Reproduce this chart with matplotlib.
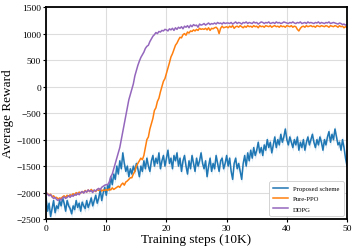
import numpy as np
import matplotlib
matplotlib.use("Agg")
import matplotlib.pyplot as plt

steps = np.arange(201) * 0.25  # training steps (10K)

proposed = [
    -2100,-2350,-2200,-2450,-2300,-2150,-2380,-2250,-2300,
    -2150,-2250,-2100,-2200,-2350,-2150,-2250,-2300,
    -2400,-2250,-2320,-2150,-2280,-2200,-2350,-2180,
    -2250,-2300,-2150,-2280,-2200,-2100,-2250,-2150,
    -2050,-2200,-2100,-1950,-2150,-2000,-1900,-2050,
    -1850,-1950,-1700,-1850,-1650,-1750,-1500,-1650,
    -1400,-1550,-1250,-1450,-1600,-1500,-1700,-1550,
    -1650,-1500,-1600,-1450,-1550,-1700,-1500,-1600,
    -1400,-1550,-1350,-1500,-1600,-1400,-1300,-1500,
    -1350,-1450,-1250,-1550,-1400,-1300,-1500,-1350,
    -1200,-1450,-1350,-1550,-1300,-1400,-1250,-1500,
    -1350,-1600,-1400,-1300,-1500,-1650,-1400,-1550,
    -1300,-1450,-1600,-1350,-1500,-1400,-1250,-1450,
    -1550,-1400,-1700,-1500,-1350,-1600,-1450,-1550,
    -1300,-1450,-1600,-1400,-1350,-1550,-1450,-1300,
    -1500,-1350,-1600,-1750,-1450,-1350,-1550,-1450,
    -1600,-1750,-1450,-1300,-1500,-1250,-1400,-1200,
    -1350,-1150,-1300,-1200,-1050,-1250,-1150,-1300,
    -1100,-1200,-1000,-1150,-1050,-1250,-1100,-950,
    -1150,-1000,-1100,-900,-1050,-950,-800,-1000,
    -1100,-950,-1050,-1150,-1000,-1100,-950,-1200,
    -1050,-1150,-1000,-1200,-1050,-950,-1100,-1000,
    -900,-1050,-1150,-1000,-1100,-950,-1050,-1200,
    -1000,-1100,-950,-850,-1050,-900,-1000,-800,
    -950,-1100,-1050,-1200,-1000,-1150,-1350,-1500,
]

pure_ppo = [
    -2000,-2020,-2050,-2030,-2080,-2060,-2100,-2090,-2120,
    -2100,-2110,-2080,-2060,-2090,-2050,-2070,-2040,
    -2060,-2020,-2050,-2000,-2030,-1990,-2010,-1980,
    -2000,-1960,-1990,-1950,-1980,-1940,-1970,-1960,
    -1980,-1940,-1960,-1930,-1970,-1950,-1960,-1940,
    -1960,-1930,-1950,-1910,-1940,-1920,-1900,-1880,
    -1900,-1850,-1820,-1860,-1800,-1780,-1750,-1720,
    -1720,-1650,-1600,-1500,-1450,-1400,-1350,-1380,
    -1300,-1150,-1000,-950,-800,-700,-600,-450,
    -400,-280,-220,-100,0,100,150,250,
    350,450,560,620,700,780,820,880,
    930,920,980,1000,970,1030,1010,1050,
    1040,1070,1050,1080,1060,1100,1080,1090,
    1080,1100,1070,1110,1060,1100,1090,1110,
    1120,1090,1000,1100,1140,1110,1120,1130,
    1110,1140,1120,1150,1100,1130,1140,1120,
    1150,1130,1110,1140,1120,1150,1130,1140,
    1120,1150,1130,1140,1110,1150,1130,1140,
    1120,1150,1140,1130,1150,1120,1140,1150,
    1130,1140,1120,1150,1130,1140,1120,1150,
    1140,1130,1150,1120,1140,1130,1080,1050,
    1100,1130,1140,1120,1150,1130,1140,1150,
    1130,1140,1120,1150,1140,1130,1150,1140,
    1130,1150,1140,1120,1150,1140,1130,1150,
    1140,1120,1150,1130,1140,1110,1130,1120,
]

ddpg = [
    -2000,-2030,-2060,-2040,-2080,-2110,-2090,-2130,-2150,
    -2120,-2140,-2100,-2080,-2110,-2090,-2060,-2090,
    -2050,-2070,-2030,-2050,-2010,-2040,-2000,-1980,
    -2010,-1970,-1990,-1950,-1980,-1960,-2000,-1950,
    -1970,-1940,-1920,-1950,-1900,-1880,-1860,-1850,
    -1850,-1800,-1700,-1650,-1550,-1450,-1350,-1250,
    -1150,-1000,-850,-700,-550,-400,-250,-150,
    -50,50,200,300,400,480,550,600,
    650,720,760,780,850,900,950,980,
    1020,1000,1040,1030,1060,1050,1080,1070,
    1050,1090,1070,1100,1060,1110,1080,1120,
    1100,1130,1090,1140,1120,1150,1110,1160,
    1130,1170,1150,1160,1120,1180,1160,1170,
    1190,1160,1180,1200,1170,1190,1180,1200,
    1180,1210,1190,1200,1180,1210,1190,1200,
    1200,1190,1210,1180,1200,1220,1190,1210,
    1200,1180,1210,1200,1220,1190,1210,1200,
    1190,1220,1200,1210,1180,1200,1220,1210,
    1190,1210,1200,1220,1190,1200,1210,1190,
    1220,1200,1210,1190,1200,1220,1210,1200,
    1190,1210,1200,1220,1200,1190,1210,1200,
    1220,1190,1200,1210,1190,1220,1200,1210,
    1200,1190,1210,1200,1220,1190,1210,1200,
    1190,1210,1200,1220,1190,1200,1210,1200,
    1190,1180,1200,1190,1170,1180,1160,1170,
]

labels = ["Proposed scheme", "Pure-PPO", "DDPG"]
colors = ["#1f77b4", "#ff7f0e", "#9467bd"]
xticks = [0, 10, 20, 30, 40, 50]
yticks = [-2500, -2000, -1500, -1000, -500, 0, 500, 1000, 1500]

plt.rcParams['font.family'] = ['Liberation Serif', 'DejaVu Serif']
plt.rcParams['axes.unicode_minus'] = True

fig = plt.figure(figsize=(3.57, 2.53), dpi=100)
ax = fig.add_axes([0.129, 0.130, 0.843, 0.838])

prop = np.array(proposed, dtype=float)
ax.fill_between(steps, prop - 70, prop + 70, color=colors[0], alpha=0.2, linewidth=0)
ax.plot(steps, prop, color=colors[0], lw=1.1, label=labels[0])
ax.plot(steps, pure_ppo, color=colors[1], lw=1.1, label=labels[1])
ax.plot(steps, ddpg, color=colors[2], lw=1.1, label=labels[2])

ax.set_xlim(0, 50)
ax.set_ylim(-2500, 1500)
ax.set_xticks(xticks)
ax.set_yticks(yticks)
ax.grid(True, color='#dddddd', linewidth=0.8)
ax.set_axisbelow(True)
for s in ax.spines.values():
    s.set_linewidth(1.3)
    s.set_color('black')
ax.tick_params(labelsize=6.8, length=2, width=0.8, pad=1.5)
ax.set_xlabel("Training steps (10K)", fontsize=9.5, labelpad=1)
ax.set_ylabel("Average Reward", fontsize=9.5, labelpad=2)
leg = ax.legend(loc='lower right', fontsize=4.8, frameon=True, fancybox=True,
                edgecolor='#cccccc', framealpha=1, handlelength=2.2, borderpad=0.6,
                labelspacing=0.7)
leg.get_frame().set_linewidth(0.6)

fig.savefig("out.png", dpi=100)
